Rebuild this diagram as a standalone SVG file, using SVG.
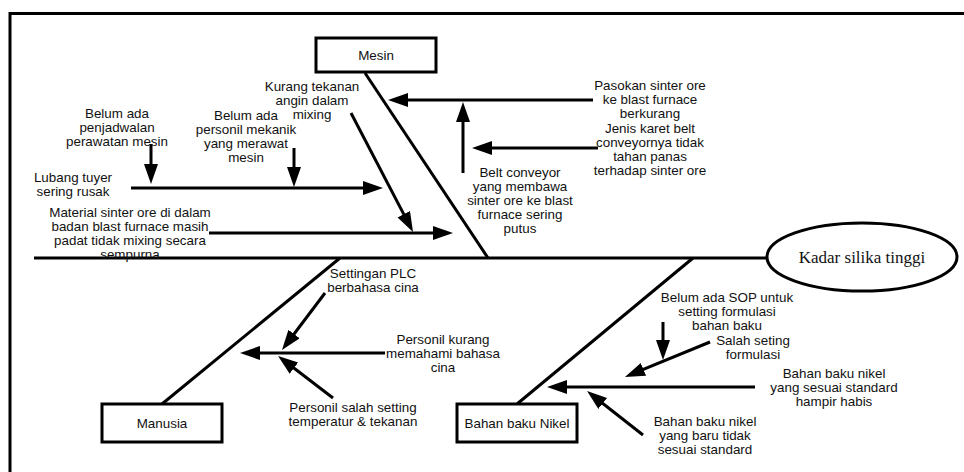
<svg xmlns="http://www.w3.org/2000/svg" width="964" height="472" viewBox="0 0 964 472">
<style>
.ln{stroke:#000;stroke-width:3;fill:none}
.ar{stroke:#000;stroke-width:3;fill:none;marker-end:url(#ah)}
.bx{fill:#fff;stroke:#000;stroke-width:3}
.t{font-family:"Liberation Sans",Arial,sans-serif;font-size:13.4px;fill:#111;text-anchor:middle}
.k{font-family:"Liberation Serif","Times New Roman",serif;font-size:17px;fill:#111;text-anchor:middle}
</style>
<defs>
<marker id="ah" markerUnits="userSpaceOnUse" markerWidth="22" markerHeight="16" refX="10" refY="7" orient="auto" viewBox="0 0 22 16">
<path d="M0,0 L20,7 L0,14 z" fill="#000"/>
</marker>
</defs>
<rect width="964" height="472" fill="#fff"/>
<path class="ln" d="M10,472 L10,13.5 L964,13.5" stroke-width="3.5"/>
<g id="connectors">
<line class="ln" x1="34" y1="258" x2="768" y2="258"/>
<line class="ln" x1="365" y1="73" x2="488" y2="258"/>
<line class="ln" x1="340" y1="258" x2="162" y2="404"/>
<line class="ln" x1="693" y1="258" x2="517" y2="404"/>
<line class="ar" x1="593" y1="100" x2="398" y2="100"/>
<line class="ar" x1="463" y1="173" x2="463" y2="112"/>
<line class="ar" x1="598" y1="148" x2="482" y2="148"/>
<line class="ar" x1="351" y1="113" x2="408.4" y2="223.1"/>
<line class="ar" x1="151" y1="144" x2="151" y2="174"/>
<line class="ar" x1="294" y1="148" x2="294" y2="177"/>
<line class="ar" x1="131" y1="188" x2="373" y2="188"/>
<line class="ar" x1="209" y1="233" x2="443" y2="233"/>
<line class="ar" x1="325" y1="293" x2="288" y2="342"/>
<line class="ar" x1="385" y1="353" x2="250" y2="353"/>
<line class="ar" x1="333" y1="398" x2="286" y2="362"/>
<line class="ar" x1="663" y1="322" x2="663" y2="350"/>
<line class="ar" x1="710" y1="342" x2="634.2" y2="373.2"/>
<line class="ar" x1="755" y1="387" x2="557" y2="387"/>
<line class="ar" x1="643" y1="435" x2="594.9" y2="397.2"/>
</g>
<g id="effect">
<ellipse cx="862" cy="257" rx="95" ry="34" fill="#fff" stroke="#000" stroke-width="3"/>
<text class="k" x="862" y="263">Kadar silika tinggi</text>
</g>
<g id="mesin">
<rect class="bx" x="316" y="38" width="120" height="34"/>
<text class="t" x="376" y="60">Mesin</text>
</g>
<g id="manusia">
<rect class="bx" x="102" y="404" width="120" height="38"/>
<text class="t" x="162" y="428">Manusia</text>
</g>
<g id="bahan">
<rect class="bx" x="457" y="404" width="120" height="38"/>
<text class="t" x="517" y="428">Bahan baku Nikel</text>
</g>
<g id="c-pasokan"><text class="t"><tspan x="650" y="90">Pasokan sinter ore</tspan><tspan x="650" y="104">ke blast furnace</tspan><tspan x="650" y="118">berkurang</tspan></text></g>
<g id="c-jenis"><text class="t"><tspan x="650" y="133">Jenis karet belt</tspan><tspan x="650" y="147">conveyornya tidak</tspan><tspan x="650" y="161">tahan panas</tspan><tspan x="650" y="175">terhadap sinter ore</tspan></text></g>
<g id="c-belt"><text class="t"><tspan x="520" y="177">Belt conveyor</tspan><tspan x="520" y="191">yang membawa</tspan><tspan x="520" y="205">sinter ore ke blast</tspan><tspan x="520" y="219">furnace sering</tspan><tspan x="520" y="233">putus</tspan></text></g>
<g id="c-kurang"><text class="t"><tspan x="312" y="91">Kurang tekanan</tspan><tspan x="312" y="105">angin dalam</tspan><tspan x="312" y="119">mixing</tspan></text></g>
<g id="c-jadwal"><text class="t"><tspan x="117" y="118">Belum ada</tspan><tspan x="117" y="132">penjadwalan</tspan><tspan x="117" y="146">perawatan mesin</tspan></text></g>
<g id="c-mekanik"><text class="t"><tspan x="246" y="120">Belum ada</tspan><tspan x="246" y="134">personil mekanik</tspan><tspan x="246" y="148">yang merawat</tspan><tspan x="246" y="162">mesin</tspan></text></g>
<g id="c-lubang"><text class="t"><tspan x="73" y="182">Lubang tuyer</tspan><tspan x="73" y="196">sering rusak</tspan></text></g>
<g id="c-material"><text class="t"><tspan x="130" y="217">Material sinter ore di dalam</tspan><tspan x="130" y="231">badan blast furnace masih</tspan><tspan x="130" y="245">padat tidak mixing secara</tspan><tspan x="130" y="259">sempurna</tspan></text></g>
<g id="c-plc"><text class="t"><tspan x="373" y="278">Settingan PLC</tspan><tspan x="373" y="292">berbahasa cina</tspan></text></g>
<g id="c-bahasa"><text class="t"><tspan x="443" y="344">Personil kurang</tspan><tspan x="443" y="358">memahami bahasa</tspan><tspan x="443" y="372">cina</tspan></text></g>
<g id="c-salahset"><text class="t"><tspan x="353" y="412">Personil salah setting</tspan><tspan x="353" y="426">temperatur &amp; tekanan</tspan></text></g>
<g id="c-sop"><text class="t"><tspan x="727" y="302">Belum ada SOP untuk</tspan><tspan x="727" y="316">setting formulasi</tspan><tspan x="727" y="330">bahan baku</tspan></text></g>
<g id="c-formulasi"><text class="t"><tspan x="753" y="345">Salah seting</tspan><tspan x="753" y="359">formulasi</tspan></text></g>
<g id="c-habis"><text class="t"><tspan x="834" y="378">Bahan baku nikel</tspan><tspan x="834" y="392">yang sesuai standard</tspan><tspan x="834" y="406">hampir habis</tspan></text></g>
<g id="c-baru"><text class="t"><tspan x="705" y="426">Bahan baku nikel</tspan><tspan x="705" y="440">yang baru tidak</tspan><tspan x="705" y="454">sesuai standard</tspan></text></g>
</svg>
